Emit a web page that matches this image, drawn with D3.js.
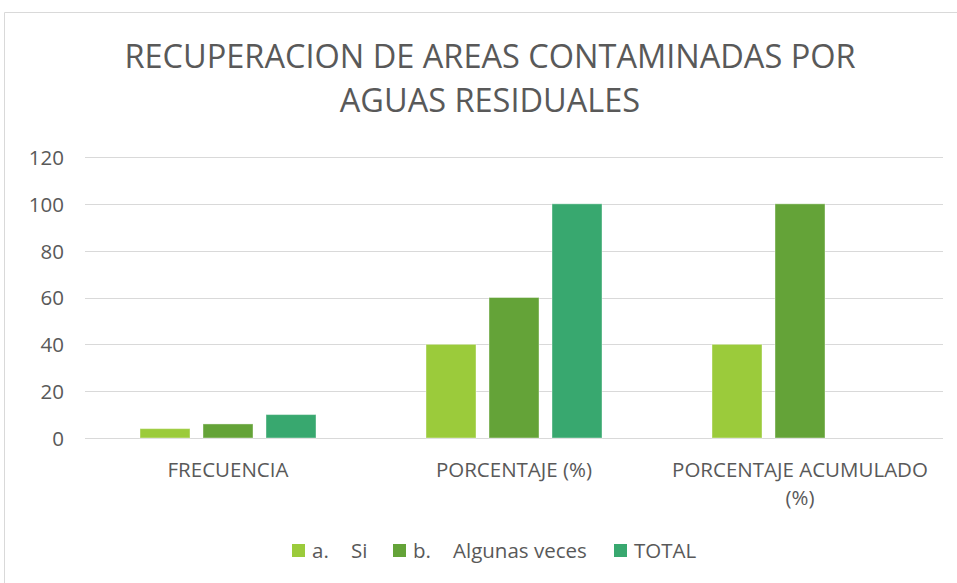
<!DOCTYPE html>
<html>
<head>
<meta charset="utf-8">
<script src="https://cdn.jsdelivr.net/npm/d3@7"></script>
<style>
  html, body { margin: 0; padding: 0; background: #fff; }
  svg { display: block; }
  text { font-family: "Open Sans", "Liberation Sans", sans-serif; fill: #595959; }
</style>
</head>
<body>
<svg id="chart" width="957" height="583"></svg>
<script>
// Chart data
const titleLines = ["RECUPERACION DE AREAS CONTAMINADAS POR", "AGUAS RESIDUALES"];
const categories = ["FRECUENCIA", "PORCENTAJE (%)", "PORCENTAJE ACUMULADO (%)"];
const categoryLines = [["FRECUENCIA"], ["PORCENTAJE (%)"], ["PORCENTAJE ACUMULADO", "(%)"]];
const seriesNames = ["a.    Si", "b.    Algunas veces", "TOTAL"];
const seriesColors = ["#9BCB3B", "#64A338", "#38A86F"];
const valuesSi = [4, 40, 40];
const valuesAlgunas = [6, 60, 100];
const valuesTotal = [10, 100, null];
const yTicks = [0, 20, 40, 60, 80, 100, 120];

const seriesValues = [valuesSi, valuesAlgunas, valuesTotal];

const svg = d3.select("#chart");
const W = 957, H = 583;
const plot = { left: 85, right: 943, top: 157, bottom: 438 };

// Chart frame
svg.append("path")
  .attr("d", `M4.5,${H} L4.5,12.5 L${W},12.5`)
  .attr("fill", "none")
  .attr("stroke", "#d9d9d9")
  .attr("stroke-width", 1);

// Title
const title = svg.append("text")
  .attr("text-anchor", "middle")
  .style("font-size", "32.5px");
titleLines.forEach((t, i) => {
  title.append("tspan").attr("x", 490).attr("y", 68 + i * 44).text(t);
});

// Scales
const y = d3.scaleLinear().domain([0, 120]).range([plot.bottom, plot.top]);
const x0 = d3.scaleBand().domain(categories).range([plot.left, plot.right]).paddingInner(0).paddingOuter(0);
const x1 = d3.scaleBand().domain(d3.range(seriesNames.length))
  .range([55, x0.bandwidth() - 55]).paddingInner(13 / 63).paddingOuter(0);

// Gridlines
svg.append("g")
  .selectAll("line")
  .data(yTicks)
  .join("line")
  .attr("x1", plot.left).attr("x2", plot.right)
  .attr("y1", d => Math.round(y(d)) + 0.5).attr("y2", d => Math.round(y(d)) + 0.5)
  .attr("stroke", "#d9d9d9")
  .attr("stroke-width", 1);

// Y axis labels
const yAxis = d3.axisLeft(y).tickValues(yTicks).tickSize(0).tickPadding(0);
const yg = svg.append("g").attr("transform", `translate(64,0)`).call(yAxis);
yg.select(".domain").remove();
yg.selectAll("text")
  .attr("fill", "#595959")
  .style("font-family", "\"Open Sans\", \"Liberation Sans\", sans-serif")
  .style("font-size", "20.5px")
  .attr("dy", "0.36em");

// Bars
const groups = svg.append("g")
  .selectAll("g")
  .data(categories)
  .join("g")
  .attr("transform", d => `translate(${x0(d)},0)`);

groups.selectAll("rect")
  .data((d, ci) => seriesValues.map((vals, si) => ({ si, v: vals[ci] })).filter(e => e.v != null))
  .join("rect")
  .attr("x", d => x1(d.si))
  .attr("width", x1.bandwidth())
  .attr("y", d => y(d.v))
  .attr("height", d => y(0) - y(d.v))
  .attr("fill", d => seriesColors[d.si])
  .attr("stroke", "#ffffff")
  .attr("stroke-opacity", 0.4)
  .attr("stroke-width", 1);

// Category labels
const catLabels = svg.append("g")
  .selectAll("text")
  .data(categories)
  .join("text")
  .attr("text-anchor", "middle")
  .style("font-size", "20.5px");
catLabels.each(function (d, i) {
  const sel = d3.select(this);
  categoryLines[i].forEach((line, li) => {
    sel.append("tspan")
      .attr("x", x0(d) + x0.bandwidth() / 2)
      .attr("y", 477 + li * 28)
      .text(line);
  });
});

// Legend: swatch, then the label split at its tab-like gap
const legendItems = [
  { x: 292, tx: [312, 351] },
  { x: 393, tx: [413, 453] },
  { x: 614, tx: [634] }
];
const legend = svg.append("g");
seriesNames.forEach((name, i) => {
  legend.append("rect")
    .attr("x", legendItems[i].x).attr("y", 544)
    .attr("width", 13).attr("height", 13)
    .attr("fill", seriesColors[i]);
  const parts = name.split(/\s{2,}/);
  const t = legend.append("text")
    .attr("y", 558)
    .style("font-size", "20.5px");
  parts.forEach((p, pi) => {
    t.append("tspan").attr("x", legendItems[i].tx[pi]).text(p);
  });
});
</script>
</body>
</html>
